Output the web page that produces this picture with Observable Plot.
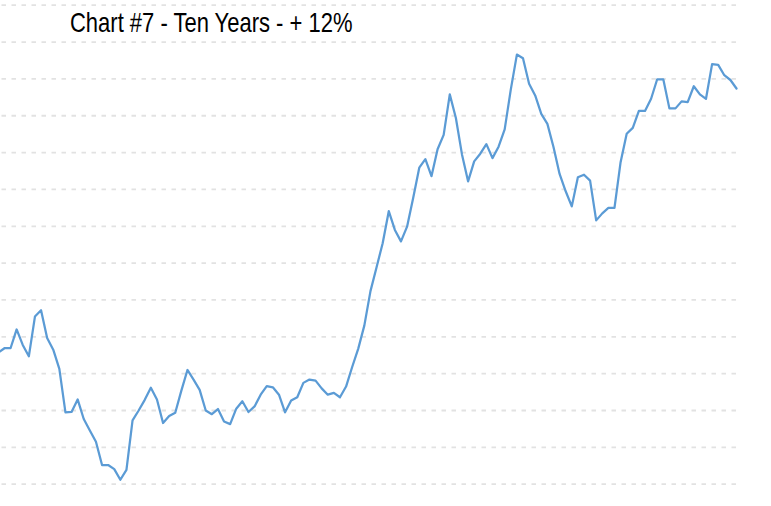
<!DOCTYPE html>
<html>
<head>
<meta charset="utf-8">
<script src="https://cdn.jsdelivr.net/npm/d3@7"></script>
<script src="https://cdn.jsdelivr.net/npm/@observablehq/plot@0.6"></script>
<style>
  html, body { margin: 0; padding: 0; background: #fff; }
  #wrap { position: relative; width: 771px; height: 506px; overflow: hidden; }
  #title {
    position: absolute; left: 70px; top: 9.3px;
    font-family: "Liberation Sans", Arial, sans-serif; font-size: 28px; line-height: 28px;
    color: #000; white-space: nowrap;
    transform: scaleX(0.785); transform-origin: left top;
  }
  #chart svg { display: block; }
</style>
</head>
<body>
<div id="wrap">
  <div id="chart"></div>
  <div id="title">Chart #7 - Ten Years - + 12%</div>
</div>
<script>
// Month index (0 = first month of the ten-year window; -1 is the month before, cut off at the edge)
const months = d3.range(-1, 121);

// Index values
const values = [
  105.7,
  106.9, 106.9, 112.0, 107.8, 104.7, 115.5, 117.2, 109.7, 106.5, 101.3,
  89.5, 89.6, 93.0, 87.7, 84.6, 81.5, 75.2, 75.2, 74.1, 71.2,
  73.9, 87.3, 90.0, 92.9, 96.2, 93.0, 86.6, 88.5, 89.4, 95.4,
  101.0, 98.4, 95.6, 90.0, 89.0, 90.4, 87.0, 86.3, 90.5, 92.5,
  89.6, 91.1, 94.3, 96.6, 96.3, 94.3, 89.5, 92.7, 93.6, 97.5,
  98.4, 98.1, 96.0, 94.3, 94.8, 93.6, 96.5, 101.8, 106.8, 113.1,
  122.4, 128.9, 135.4, 144.1, 139.0, 135.9, 139.9, 147.7, 155.9, 158.2,
  153.6, 160.9, 164.8, 175.8, 169.4, 159.5, 152.2, 157.6, 159.7, 162.3,
  158.5, 161.6, 166.3, 177.1, 186.6, 185.6, 178.7, 175.5, 170.5, 167.8,
  161.5, 154.2, 149.5, 145.4, 153.3, 154.0, 152.4, 141.6, 143.5, 145.0,
  145.0, 157.4, 165.1, 166.7, 171.3, 171.3, 174.6, 179.9, 179.9, 172.0,
  172.0, 173.9, 173.7, 178.0, 175.8, 174.6, 184.0, 183.8, 181.0, 179.7,
  177.4
];

// Horizontal gridline values (no tick labels shown)
const gridTicks = d3.range(70, 201, 10);

const data = months.map((m, i) => ({month: m, value: values[i]}));

const chart = Plot.plot({
  width: 771,
  height: 506,
  marginTop: 4.7,
  marginBottom: 22.3,
  marginLeft: 1.5,
  marginRight: 35,
  x: {domain: [-0.4, 120], axis: null},
  y: {domain: [70, 200], axis: null},
  marks: [
    Plot.ruleY(gridTicks, {stroke: "#e2e2e2", strokeWidth: 1.8, strokeDasharray: "4.5,5.5"}),
    Plot.line(data, {x: "month", y: "value", stroke: "#5B9BD5", strokeWidth: 2.25, strokeLinejoin: "round", strokeLinecap: "round"})
  ]
});
document.getElementById("chart").appendChild(chart);
</script>
</body>
</html>
